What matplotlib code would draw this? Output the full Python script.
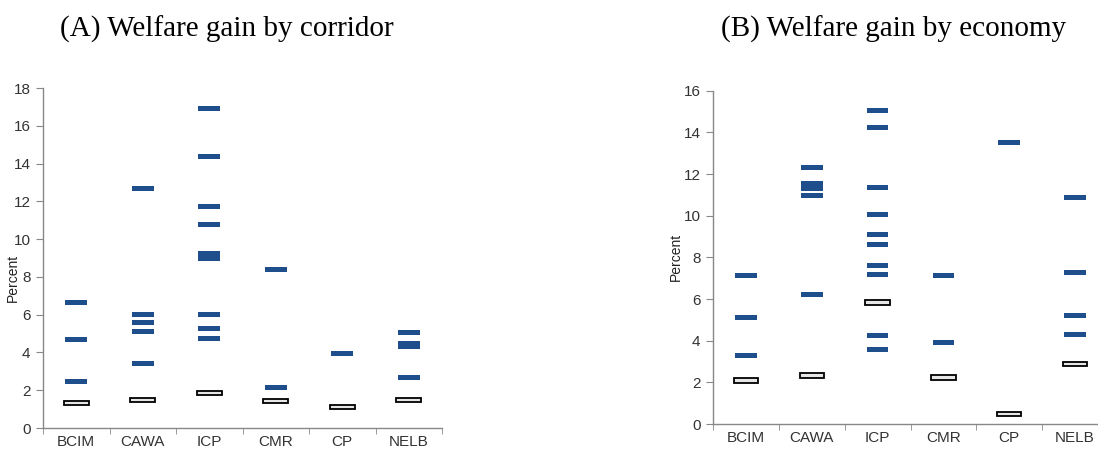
import matplotlib; matplotlib.use("Agg")
import matplotlib.pyplot as plt
import numpy as np

# ---- data ----
categories = ["BCIM", "CAWA", "ICP", "CMR", "CP", "NELB"]

# (A) welfare gain by corridor: blue = individual economies, white = corridor total
corridor_blue = [
    [6.62, 4.68, 2.47],
    [12.7, 6.0, 5.56, 5.12, 3.44],
    [16.94, 14.38, 11.73, 10.76, 9.25, 9.0, 6.0, 5.29, 4.76],
    [8.38, 2.12],
    [3.97],
    [5.03, 4.5, 4.32, 2.65],
]
corridor_white = [1.33, 1.47, 1.85, 1.42, 1.12, 1.48]

# (B) welfare gain by economy
economy_blue = [
    [7.12, 5.12, 3.28],
    [12.32, 11.55, 11.3, 10.96, 6.24],
    [15.04, 14.24, 11.36, 10.08, 9.12, 8.64, 7.6, 7.2, 4.24, 3.6],
    [7.12, 3.92],
    [13.52],
    [10.88, 7.28, 5.2, 4.32],
]
economy_white = [2.08, 2.34, 5.84, 2.24, 0.48, 2.88]

BLUE = "#1f4e8c"
W, H = 1098, 450
plt.rcParams["font.family"] = ["Liberation Sans", "DejaVu Sans"]
fig = plt.figure(figsize=(W/100, H/100), dpi=100)

def panel(rect, blue, white, ymax, title, title_x, ylab_pos):
    ax = fig.add_axes(rect)
    ppu = rect[3]*H / ymax  # pixels per data unit
    x = np.arange(len(categories))
    for i, vals in enumerate(blue):
        v = np.array(vals)
        h = 5.0/ppu
        ax.bar(np.full(len(v), i), h, bottom=v - h/2, width=0.33,
               color=BLUE, linewidth=0, zorder=3)
    h = 4.5/ppu
    ax.bar(x, h, bottom=np.array(white) - h/2, width=0.37,
           color="#e6e6e6", edgecolor="black", linewidth=1.3, zorder=4)
    ax.set_xlim(-0.5, len(categories) - 0.5)
    ax.set_ylim(0, ymax)
    ax.set_yticks(np.arange(0, ymax + 1, 2))
    ax.set_xticks(x)
    ax.set_xticklabels(categories)
    ax.set_xticks(np.arange(-0.5, len(categories)), minor=True)
    ax.tick_params(axis="x", which="major", length=0, pad=5)
    ax.tick_params(axis="x", which="minor", length=4, color="#888888")
    ax.tick_params(axis="y", length=5, color="#888888", pad=4)
    ax.tick_params(labelsize=11, labelcolor="#333333")
    for s in ["top", "right"]:
        ax.spines[s].set_visible(False)
    for s in ["left", "bottom"]:
        ax.spines[s].set_color("#888888")
        ax.spines[s].set_linewidth(1.0)
    ax.set_ylabel("Percent", fontsize=10, color="#222222")
    ax.yaxis.set_label_coords(*ylab_pos)
    fig.text(title_x, 1 - 29/H, title, ha="center", va="center",
             family="Liberation Serif", fontsize=21)
    return ax

# left panel: axis x 43..442, y 428..88
panel([43/W, 1 - 428/H, (442 - 43)/W, (428 - 88)/H],
      corridor_blue, corridor_white, 18, "(A) Welfare gain by corridor", 227/W,
      (-0.058, 0.44))
# right panel: axis x 713..1108, y 424..90.7
panel([713/W, 1 - 424/H, (1108 - 713)/W, (424 - 90.7)/H],
      economy_blue, economy_white, 16, "(B) Welfare gain by economy", 894/W,
      (-0.076, 0.50))

fig.savefig("out.png", dpi=100)
